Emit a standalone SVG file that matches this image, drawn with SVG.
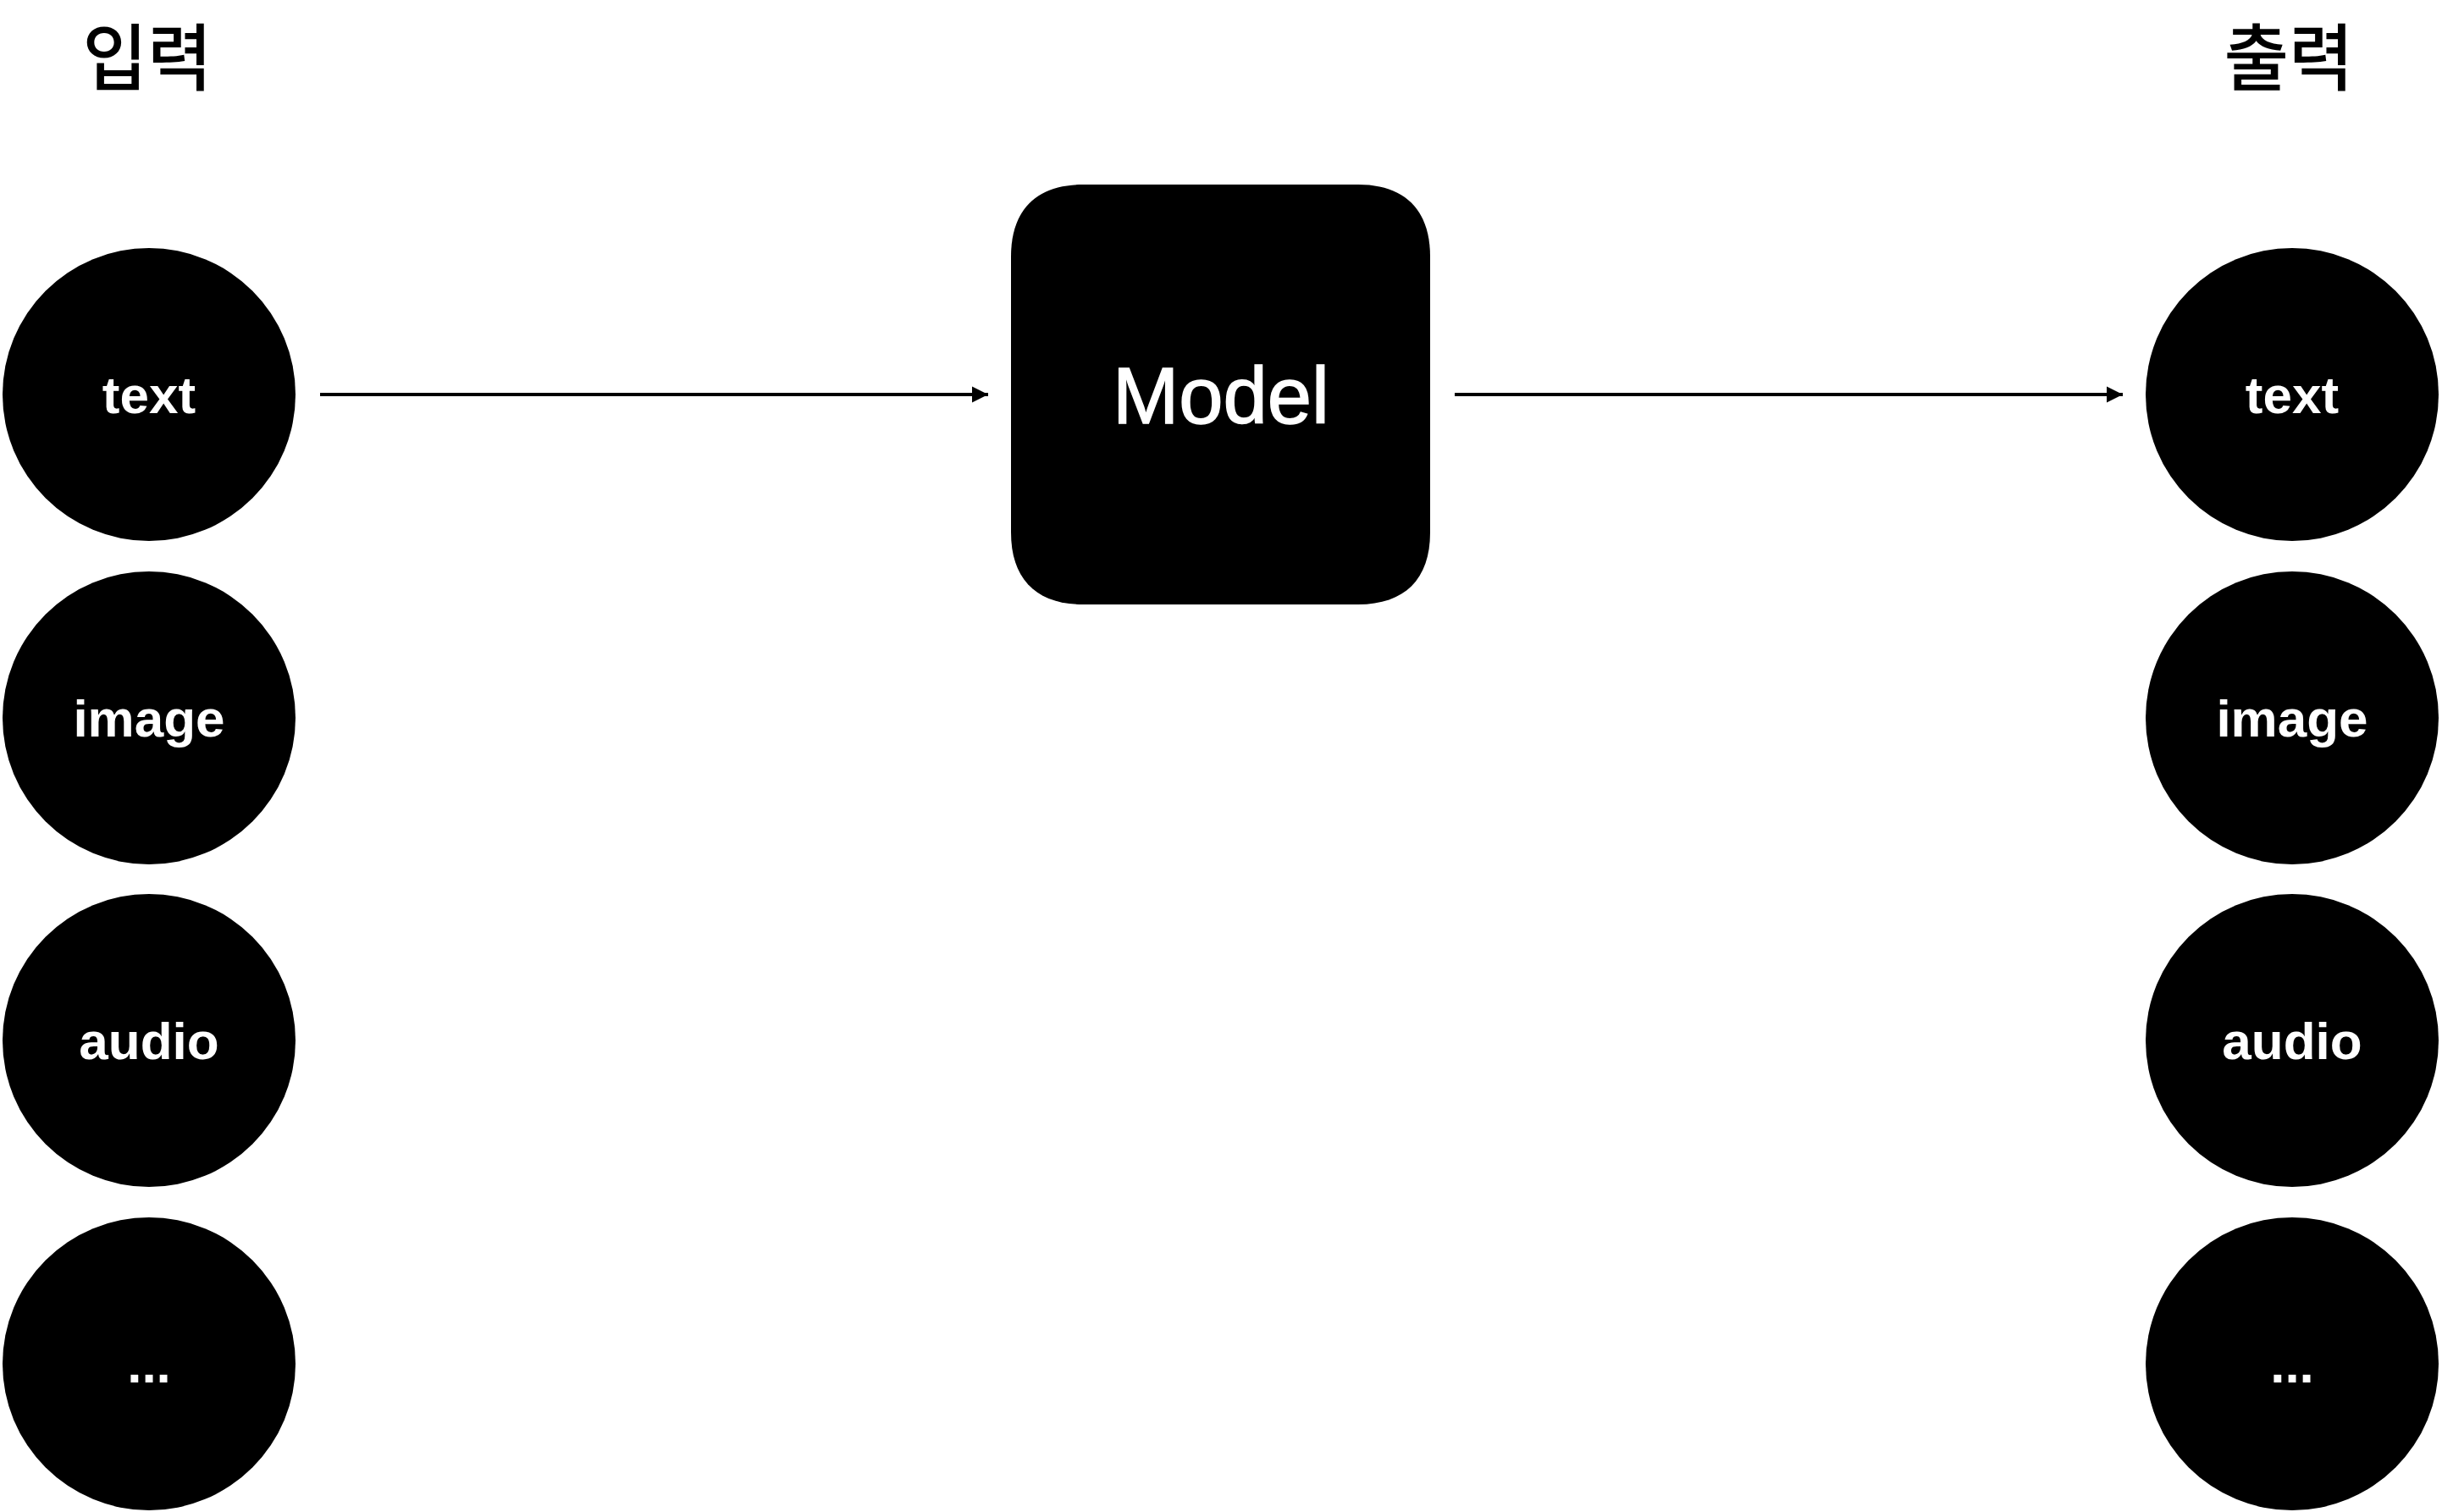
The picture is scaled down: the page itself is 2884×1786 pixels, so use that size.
<svg xmlns="http://www.w3.org/2000/svg" width="2884" height="1786" viewBox="0 0 2884 1786">
<style>
.node{fill:#000}
.lbl{fill:#fff;font-family:"Liberation Sans",Arial,sans-serif;font-weight:bold;font-size:62px;text-anchor:middle}
.model{fill:#fff;stroke:#fff;stroke-width:1.5;font-family:"Liberation Sans",Arial,sans-serif;font-size:94px;text-anchor:middle}
.head{fill:#000;font-family:"Noto Sans CJK KR","Noto Sans",sans-serif;font-weight:500;font-size:86px;text-anchor:middle}
.conn{stroke:#000;stroke-width:4;fill:none}
</style>
<defs>
<marker id="arr" markerUnits="userSpaceOnUse" markerWidth="20" markerHeight="20" refX="19" refY="10" orient="auto" viewBox="0 0 20 20">
<path d="M0,0.5 L19,10 L0,19.5 Z" fill="#000"/>
</marker>
</defs>
<rect width="2884" height="1786" fill="#fff"/>
<g id="heading-input"><text class="head" x="174" y="100" textLength="153" lengthAdjust="spacingAndGlyphs">입력</text></g>
<g id="heading-output"><text class="head" x="2703" y="100" textLength="153" lengthAdjust="spacingAndGlyphs">출력</text></g>
<g id="in-text"><circle class="node" cx="176" cy="466" r="173"/><text class="lbl" x="176" y="488">text</text></g>
<g id="in-image"><circle class="node" cx="176" cy="848" r="173"/><text class="lbl" x="176" y="870">image</text></g>
<g id="in-audio"><circle class="node" cx="176" cy="1229" r="173"/><text class="lbl" x="176" y="1251">audio</text></g>
<g id="in-more"><circle class="node" cx="176" cy="1611" r="173"/><text class="lbl" x="176" y="1633">...</text></g>
<g id="model"><path class="node" d="M1279,218 L1604,218 C1659,218 1689,248 1689,303 L1689,629 C1689,684 1659,714 1604,714 L1279,714 C1224,714 1194,684 1194,629 L1194,303 C1194,248 1224,218 1279,218 Z"/><text class="model" x="1442" y="500">Model</text></g>
<g id="out-text"><circle class="node" cx="2707" cy="466" r="173"/><text class="lbl" x="2707" y="488">text</text></g>
<g id="out-image"><circle class="node" cx="2707" cy="848" r="173"/><text class="lbl" x="2707" y="870">image</text></g>
<g id="out-audio"><circle class="node" cx="2707" cy="1229" r="173"/><text class="lbl" x="2707" y="1251">audio</text></g>
<g id="out-more"><circle class="node" cx="2707" cy="1611" r="173"/><text class="lbl" x="2707" y="1633">...</text></g>
<g id="connectors">
<line class="conn" x1="378" y1="466" x2="1167" y2="466" marker-end="url(#arr)"/>
<line class="conn" x1="1718" y1="466" x2="2507" y2="466" marker-end="url(#arr)"/>
</g>
</svg>
